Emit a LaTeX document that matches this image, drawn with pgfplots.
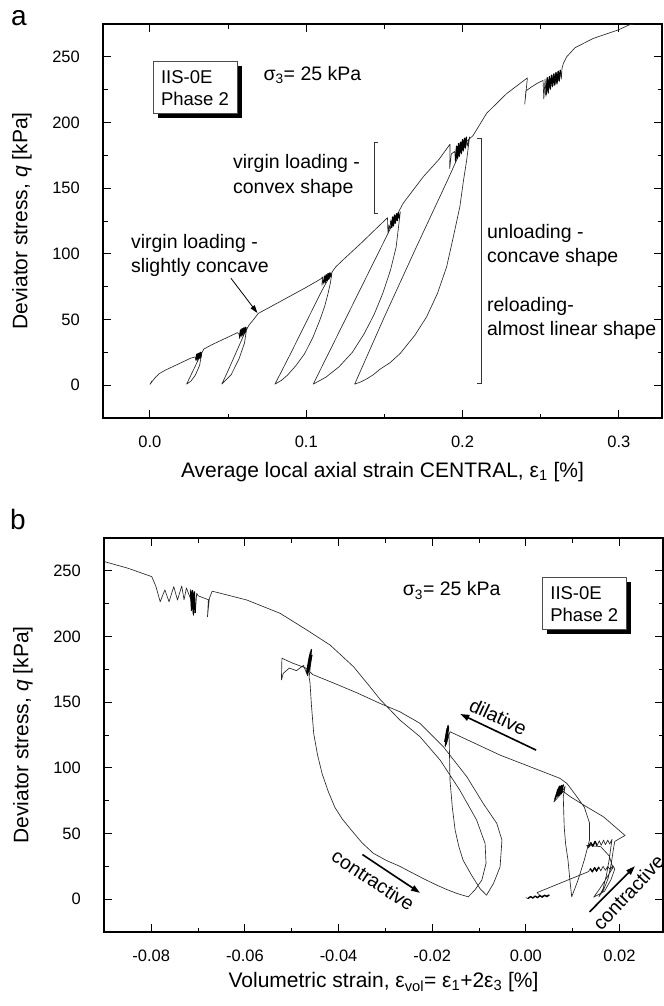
\documentclass[border=0pt]{standalone}
\usepackage{fontspec}
\setmainfont{Liberation Sans}
\usepackage{pgfplots}
\pgfplotsset{compat=1.18}
\usetikzlibrary{arrows.meta}

\newcommand\ann{\fontsize{19.5bp}{22bp}\selectfont}
\newcommand\boxf{\fontsize{18.5bp}{21bp}\selectfont}

\pgfplotsset{
  panel/.style={
    scale only axis, width=559bp, height=394bp, clip=false,
    ymin=-25, ymax=275, scaled x ticks=false, scaled y ticks=false,
    ytick={0,50,100,150,200,250}, yticklabels={0,50,100,150,200,250},
    minor x tick num=1, minor y tick num=1,
    tick align=inside, major tick length=8bp, minor tick length=4.5bp,
    every tick/.style={black, line width=0.9bp},
    axis line style={line width=1.1bp},
    tick label style={font=\fontsize{16.5bp}{19bp}\selectfont},
    xticklabel style={anchor=center, yshift=-24bp},
    yticklabel style={anchor=east, inner sep=0pt, xshift=-23bp},
    label style={font=\fontsize{21bp}{24bp}\selectfont},
    ylabel style={at={(axis description cs:-0.145,0.5)}, anchor=center},
  },
  trace/.style={black!85, line width=0.65bp, mark=none, line join=round},
  noise/.style={black, line width=1.3bp, mark=none, line join=round},
}

\begin{document}
\begin{tikzpicture}
\path[use as bounding box] (0,0) rectangle (664bp,-1006bp);
\node[anchor=base, font=\fontsize{28bp}{32bp}\selectfont] at (19bp,-25bp) {a};
\node[anchor=base, font=\fontsize{28bp}{32bp}\selectfont] at (18bp,-529bp) {b};

% (a) q versus local axial strain
\begin{axis}[panel, at={(103bp,-418bp)}, anchor=south west,
  xmin=-0.03, xmax=0.3276,
  xtick={0,0.1,0.2,0.3}, xticklabels={0.0,0.1,0.2,0.3},
  xlabel={Average local axial strain CENTRAL, ε\textsubscript{1} [\%]},
  xlabel style={at={(axis description cs:0.5,-0.137)}, anchor=center},
  ylabel={Deviator stress, \textit{q} [kPa]}]
\addplot[trace] coordinates {
 (0.0000,0.5) (0.0012,3.0) (0.0004,1.2) (0.0022,4.0) (0.0040,6.5) (0.0060,8.8) (0.0100,11.5) (0.0180,16.0) (0.0260,20.5)
 (0.0290,21.5) (0.0295,18.5) (0.0300,23.5) (0.0303,19) (0.0308,24) (0.0312,19.5) (0.0316,24.5) (0.0320,20.5) (0.0325,25) (0.0328,21) (0.0332,25)
 (0.0318,15) (0.0290,7.5) (0.0262,3) (0.0235,0.8)
 (0.0270,9.5) (0.0300,17) (0.0330,24) (0.0345,27.5)
 (0.0400,31) (0.0480,35.5) (0.0560,40)
 (0.0570,39) (0.0574,35.5) (0.0580,42) (0.0584,37) (0.0590,43) (0.0594,37.5) (0.0600,43.5) (0.0604,39) (0.0610,44) (0.0614,40) (0.0620,44)
 (0.0605,32) (0.0570,20) (0.0520,8) (0.0460,0.8)
 (0.0500,11) (0.0550,24.5) (0.0600,38) (0.0635,46)
 (0.0660,49.5) (0.0693,54.6) (0.0800,61.5) (0.0900,68) (0.1000,74.5) (0.1095,81)
 (0.1105,82.5) (0.1100,76) (0.1108,80) (0.1112,77) (0.1118,83) (0.1122,78) (0.1128,84) (0.1133,79) (0.1140,85) (0.1145,80.5) (0.1152,85.5) (0.1158,82) (0.1165,86)
 (0.1155,78) (0.1140,70) (0.1118,60) (0.1087,49.5) (0.1045,37) (0.0990,24) (0.0935,15) (0.0880,7.6) (0.0840,3.5) (0.0800,0.8)
 (0.0900,24) (0.1000,48) (0.1100,72) (0.1170,87) (0.1190,90.2)
 (0.1250,97) (0.1350,108) (0.1450,119.5) (0.1520,127.5)
 (0.1523,115) (0.1530,122) (0.1535,118) (0.1542,126) (0.1547,120) (0.1553,128) (0.1558,121) (0.1565,129.5) (0.1570,123) (0.1578,130.5) (0.1583,125) (0.1590,131.5) (0.1595,127) (0.1602,132)
 (0.1590,120) (0.1575,105) (0.1540,88) (0.1490,70) (0.1435,54) (0.1370,39) (0.1295,25) (0.1210,14) (0.1125,6) (0.1045,0.8)
 (0.1200,38) (0.1350,74) (0.1500,110) (0.1600,134) (0.1620,138.5)
 (0.1749,158.7) (0.1850,172) (0.1920,183.5)
 (0.1918,165) (0.1928,176) (0.1950,178) (0.1955,170) (0.1962,182) (0.1967,172) (0.1975,184) (0.1980,174) (0.1988,185) (0.1993,176) (0.2000,187) (0.2005,178) (0.2013,188) (0.2018,180) (0.2025,189) (0.2030,182) (0.2045,189)
 (0.2026,171) (0.2005,155) (0.1983,136) (0.1945,115) (0.1898,90) (0.1840,70) (0.1770,52) (0.1695,38) (0.1600,24) (0.1535,17) (0.1470,12) (0.1430,8) (0.1390,5) (0.1350,2.5) (0.1310,0.8)
 (0.1500,52) (0.1700,104) (0.1900,155) (0.2010,184) (0.2067,190)
 (0.2154,207) (0.2282,222) (0.2415,234)
 (0.2398,214) (0.2405,224) (0.2440,227) (0.2480,230) (0.2515,232)
 (0.2520,218) (0.2528,233) (0.2534,220) (0.2542,234) (0.2548,222) (0.2556,235) (0.2562,225) (0.2570,236) (0.2576,227) (0.2584,237) (0.2590,228) (0.2598,238) (0.2604,229) (0.2612,239) (0.2618,231) (0.2626,240) (0.2632,233) (0.2636,241)
 (0.2645,245) (0.2666,250) (0.2720,257) (0.2836,264) (0.2996,270.5) (0.3070,274.5) (0.3095,275)
};
% dense noise at the cycle peaks
\addplot[noise] coordinates {(0.0295,19.5) (0.0300,23.5) (0.0303,20) (0.0308,24) (0.0312,20.5) (0.0316,24.5) (0.0320,21) (0.0325,25) (0.0328,22)};
\addplot[noise] coordinates {(0.0574,36.5) (0.0580,42) (0.0584,38) (0.0590,43) (0.0594,38.5) (0.0600,43.5) (0.0604,40) (0.0610,44) (0.0614,41)};
\addplot[noise] coordinates {(0.1110,78) (0.1118,83) (0.1122,78.5) (0.1128,84) (0.1133,79.5) (0.1140,85) (0.1145,81) (0.1152,85.5) (0.1158,82.5)};
\addplot[noise] coordinates {(0.1542,125) (0.1547,120) (0.1553,128) (0.1558,121.5) (0.1565,129.5) (0.1570,123.5) (0.1578,130.5) (0.1583,125.5) (0.1590,131.5) (0.1595,127.5)};
\addplot[noise] coordinates {(0.1955,171) (0.1962,182) (0.1967,173) (0.1975,184) (0.1980,175) (0.1988,185) (0.1993,177) (0.2000,187) (0.2005,179) (0.2013,188) (0.2018,181) (0.2025,189)};
\addplot[noise] coordinates {(0.2534,221) (0.2542,234) (0.2548,223) (0.2556,235) (0.2562,226) (0.2570,236) (0.2576,228) (0.2584,237) (0.2590,229) (0.2598,238) (0.2604,230) (0.2612,239) (0.2618,232) (0.2626,240)};
% annotations
\fill[black] (axis cs:0.0051,203.5) rectangle (axis cs:0.0589,243.1);
\draw[black!70, fill=white, line width=0.6bp] (axis cs:0.0019,207.3) rectangle (axis cs:0.0557,246.9);
\node[anchor=west, inner sep=0pt, font=\boxf] at (axis cs:0.0070,234.7) {IIS-0E};
\node[anchor=west, inner sep=0pt, font=\boxf] at (axis cs:0.0070,218.2) {Phase 2};
\node[anchor=west, inner sep=0pt, font=\ann] at (axis cs:0.0726,236) {σ\textsubscript{3}= 25 kPa};
\node[anchor=west, inner sep=0pt, font=\ann] at (axis cs:0.0531,169) {virgin loading -};
\node[anchor=west, inner sep=0pt, font=\ann] at (axis cs:0.0531,150) {convex shape};
\node[anchor=west, inner sep=0pt, font=\ann] at (axis cs:-0.0122,108) {virgin loading -};
\node[anchor=west, inner sep=0pt, font=\ann] at (axis cs:-0.0122,89.5) {slightly concave};
\node[anchor=west, inner sep=0pt, font=\ann] at (axis cs:0.2156,115.8) {unloading -};
\node[anchor=west, inner sep=0pt, font=\ann] at (axis cs:0.2156,97) {concave shape};
\node[anchor=west, inner sep=0pt, font=\ann] at (axis cs:0.2156,60.2) {reloading-};
\node[anchor=west, inner sep=0pt, font=\ann] at (axis cs:0.2156,41.4) {almost linear shape};
\draw[black!80, line width=0.8bp] (axis cs:0.1460,185) -- (axis cs:0.1433,185) -- (axis cs:0.1433,131) -- (axis cs:0.1460,131);
\draw[black!80, line width=0.8bp] (axis cs:0.2092,188) -- (axis cs:0.2118,188) -- (axis cs:0.2118,1.5) -- (axis cs:0.2092,1.5);
\draw[black, line width=0.8bp, -{Triangle[length=8bp,width=5bp]}] (axis cs:0.0518,81.5) -- (axis cs:0.0688,54.9);
\end{axis}

% (b) q versus volumetric strain
\begin{axis}[panel, at={(104bp,-932bp)}, anchor=south west,
  xmin=-0.0901, xmax=0.0293,
  xtick={-0.08,-0.06,-0.04,-0.02,0,0.02}, xticklabels={-0.08,-0.06,-0.04,-0.02,0.00,0.02},
  xlabel={Volumetric strain, ε\textsubscript{vol}= ε\textsubscript{1}+2ε\textsubscript{3} [\%]},
  xlabel style={at={(axis description cs:0.5,-0.127)}, anchor=center},
  ylabel={Deviator stress, \textit{q} [kPa]}]
\addplot[trace] coordinates {
 (0.0000,1.2) (0.0005,0.4) (0.0010,2.0) (0.0015,0.8) (0.0020,2.4) (0.0025,1.0) (0.0030,2.8) (0.0035,1.4) (0.0040,3.0) (0.0045,1.8) (0.0050,3.2) (0.0032,2.2) (0.0024,5.0)
 (0.0134,21)
 (0.0138,23.5) (0.0142,20.5) (0.0147,24) (0.0151,21) (0.0156,24.5) (0.0160,21.5) (0.0165,25) (0.0170,22) (0.0175,25) (0.0180,22.5) (0.0186,25.5) (0.0190,23)
 (0.0182,15) (0.0168,6) (0.0145,1.5) (0.0158,8) (0.0174,17) (0.0186,24)
 (0.0178,33) (0.0160,40) (0.0130,41)
 (0.0134,39) (0.0139,43) (0.0143,40) (0.0148,44) (0.0152,40.5) (0.0157,44.5) (0.0161,41) (0.0166,45) (0.0170,41.5) (0.0175,45) (0.0179,42) (0.0184,45.5)
 (0.0178,30) (0.0172,18) (0.0165,8) (0.0156,1.8) (0.0166,7) (0.0176,16) (0.0183,28) (0.0187,38) (0.0190,44)
 (0.0212,48.5)
 (0.0166,62.7) (0.0130,70.3) (0.0095,78) (0.0080,82)
 (0.0060,74) (0.0068,84) (0.0062,76) (0.0072,86) (0.0066,78) (0.0076,86.5) (0.0070,79) (0.0080,87) (0.0075,80) (0.0084,86)
 (0.0080,78) (0.0081,66) (0.0082,55) (0.0085,42) (0.0090,30) (0.0094,15) (0.0098,1.8)
 (0.0112,15) (0.0125,30) (0.0136,45) (0.0136,58) (0.0125,70) (0.0105,80) (0.0088,88) (0.0073,92)
 (-0.0055,109.7) (-0.0162,127.5)
 (-0.0170,118) (-0.0165,131) (-0.0172,116) (-0.0166,132.5) (-0.0173,120) (-0.0168,130) (-0.0171,122) (-0.0164,126)
 (-0.0163,110) (-0.0162,90.7) (-0.0157,70) (-0.0151,52.6) (-0.0143,40) (-0.0134,29.7) (-0.0116,18.3) (-0.0098,8.1) (-0.0084,3.0)
 (-0.0069,12) (-0.0055,24.6) (-0.0051,45) (-0.0062,57.7) (-0.0091,72.9) (-0.0126,93.2) (-0.0176,116) (-0.0226,133.9) (-0.0269,142.7) (-0.0311,149) (-0.0360,157) (-0.0410,164.5) (-0.0455,171)
 (-0.0470,176) (-0.0500,180) (-0.0521,183.5) (-0.0522,167) (-0.0518,172) (-0.0505,176) (-0.0490,174) (-0.0475,178)
 (-0.0466,170) (-0.0462,185) (-0.0468,172) (-0.0460,188) (-0.0466,175) (-0.0458,190) (-0.0464,173) (-0.0457,186) (-0.0463,169)
 (-0.0461,165) (-0.0458,148) (-0.0453,126) (-0.0445,110) (-0.0435,95.4) (-0.0422,82) (-0.0408,70) (-0.0392,61) (-0.0372,52.3) (-0.0350,43) (-0.0326,35) (-0.0298,29.5) (-0.0269,25) (-0.0245,20.5) (-0.0218,15.5) (-0.0195,11.5) (-0.0170,7.5) (-0.0146,4.2) (-0.0123,1.8)
 (-0.0109,6.9) (-0.0094,14.5) (-0.0085,27.2) (-0.0087,42.4) (-0.0105,60.2) (-0.0141,83) (-0.0183,105.9) (-0.0226,123.7) (-0.0269,136.4) (-0.0311,152) (-0.0333,161.8) (-0.0368,177) (-0.0418,193.5) (-0.0468,205) (-0.0525,217.7) (-0.0596,227.8) (-0.0653,233) (-0.0670,234.5)
 (-0.0676,229) (-0.0680,215) (-0.0678,228) (-0.0700,231)
 (-0.0703,233) (-0.0706,218) (-0.0708,234) (-0.0710,216) (-0.0712,235) (-0.0714,220) (-0.0716,236) (-0.0712,225)
 (-0.0725,237) (-0.0730,228) (-0.0735,238.5) (-0.0744,227.8) (-0.0752,238) (-0.0762,226.5) (-0.0771,235.5) (-0.0781,226.5) (-0.0790,238) (-0.0799,245.6) (-0.0850,252) (-0.0900,257)
};
% dense noise clusters
\addplot[noise] coordinates {(0.0005,0.6) (0.0010,2.0) (0.0015,0.9) (0.0020,2.4) (0.0025,1.1) (0.0030,2.8) (0.0035,1.5) (0.0040,3.0) (0.0045,1.9) (0.0050,3.2)};
\addplot[noise] coordinates {(0.0138,23) (0.0142,21) (0.0147,24) (0.0151,21.5) (0.0156,24.5)};
\addplot[noise] coordinates {(0.0134,40) (0.0139,43) (0.0143,40.5) (0.0148,44) (0.0152,41)};
\addplot[noise] coordinates {(0.0062,76) (0.0072,86) (0.0066,78) (0.0076,86.5) (0.0070,79) (0.0080,87) (0.0075,80)};
\addplot[noise] coordinates {(-0.0170,118) (-0.0165,131) (-0.0172,117) (-0.0166,132) (-0.0173,120) (-0.0168,130) (-0.0171,122)};
\addplot[noise] coordinates {(-0.0466,171) (-0.0462,185) (-0.0468,173) (-0.0460,188) (-0.0466,175) (-0.0458,190) (-0.0464,174) (-0.0457,186)};
\addplot[noise] coordinates {(-0.0706,218) (-0.0708,234) (-0.0710,217) (-0.0712,235) (-0.0714,220) (-0.0716,235)};
\fill[black] (axis cs:0.00453,201.9) rectangle (axis cs:0.02248,241.6);
\draw[black!70, fill=white, line width=0.6bp] (axis cs:0.00346,205.7) rectangle (axis cs:0.02141,245.4);
\node[anchor=west, inner sep=0pt, font=\boxf] at (axis cs:0.0052,233) {IIS-0E};
\node[anchor=west, inner sep=0pt, font=\boxf] at (axis cs:0.0052,216.4) {Phase 2};
\node[anchor=west, inner sep=0pt, font=\ann] at (axis cs:-0.0263,235) {σ\textsubscript{3}= 25 kPa};
\node[rotate=-25, inner sep=0pt, font=\ann] at (axis cs:-0.0059,139) {dilative};
\draw[black, line width=1.6bp, -{Triangle[length=9bp,width=6bp]}] (axis cs:0.0022,113.5) -- (axis cs:-0.0140,141);
\node[rotate=-33.5, inner sep=0pt, font=\ann] at (axis cs:-0.0326,14.5) {contractive};
\draw[black, line width=1.6bp, -{Triangle[length=9bp,width=6bp]}] (axis cs:-0.0349,34) -- (axis cs:-0.0226,4.8);
\node[rotate=47, inner sep=0pt, font=\ann] at (axis cs:0.0219,5) {contractive};
\draw[black, line width=1.6bp, -{Triangle[length=9bp,width=6bp]}] (axis cs:0.0136,-9.7) -- (axis cs:0.0233,25.1);
\end{axis}
\end{tikzpicture}
\end{document}
